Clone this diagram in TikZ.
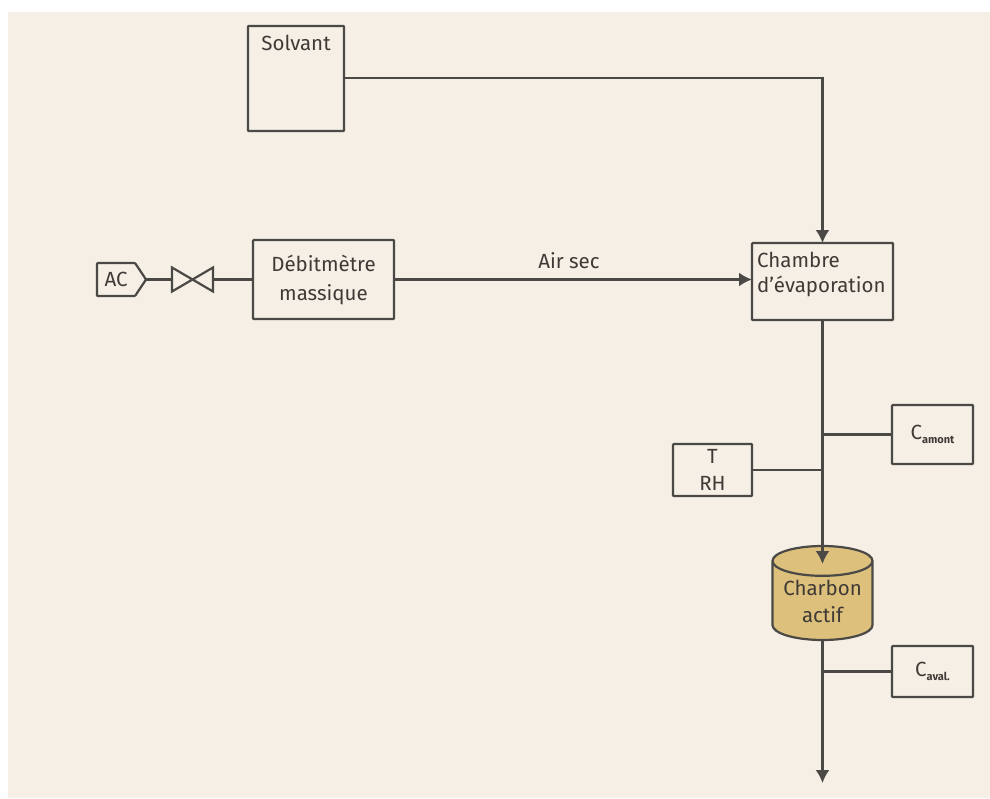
\documentclass[tikz,border=0pt]{standalone}
\usepackage{fontspec}
\setmainfont{Fira Sans}
\usetikzlibrary{positioning,arrows.meta,shapes.geometric,shapes.symbols}
\definecolor{papier}{HTML}{F5EFE6}
\definecolor{trait}{HTML}{4B4946}
\definecolor{encre}{HTML}{3F3A36}
\definecolor{charbon}{HTML}{DCC07C}
\tikzset{
  box/.style={draw=trait, line width=2.2pt, rounded corners=0.8pt, outer sep=0pt, inner sep=0pt, align=center, text=encre},
  flow/.style={draw=trait, line width=2.2pt},
  flowarrow/.style={flow, -{Latex[length=13pt,width=14pt]}},
}
\newcommand{\conc}[1]{C{\fontsize{11}{11}\selectfont\raisebox{-4pt}{\bfseries #1}}}
\begin{document}
\begin{tikzpicture}[x=1pt,y=-1pt,font=\fontsize{20.5}{27}\selectfont]
  \fill[white] (0,0) rectangle (990,798);
  \fill[papier] (8,12) rectangle (990,798);
  \useasboundingbox (0,0) rectangle (990,798);

  \node (mfc) [box, minimum width=141pt, minimum height=79pt] at (323.5,279.5) {Débitmètre\\[2pt]massique};
  \node (valve) [minimum width=41pt, minimum height=24pt, inner sep=0pt, outer sep=0pt, left=40pt of mfc] {};
  \node (ac) [box, signal, signal to=east, signal pointer angle=113, minimum width=49pt, minimum height=33pt, left=26pt of valve] {AC};
  \node (solvant) [box, minimum width=96pt, minimum height=105pt, above=109pt of mfc, xshift=-27.5pt,
    label={[anchor=north, text=encre, yshift=-6pt]north:Solvant}] {};
  \node (chambre) [box, minimum width=141pt, minimum height=77pt, right=358pt of mfc, yshift=-2pt,
    label={[anchor=north west, text=encre, align=left, inner sep=0pt, xshift=5pt, yshift=-9pt]north west:Chambre\\[-2pt]d'évaporation}] {};
  \node (amont) [box, minimum width=81pt, minimum height=59pt, below=85pt of chambre, xshift=110pt] {\conc{amont}};
  \node (rh) [box, minimum width=79pt, minimum height=52pt, below=124pt of chambre, xshift=-110pt] {T\\RH};
  \node (actif) [cylinder, shape border rotate=90, aspect=0.38, draw=trait, line width=2.2pt, cylinder uses custom fill,
    cylinder body fill=charbon, cylinder end fill=charbon, minimum width=100pt, minimum height=94pt, inner sep=0pt, outer sep=0pt,
    align=center, text=encre, below=226pt of chambre] {Charbon\\actif};
  \node (aval) [box, minimum width=81pt, minimum height=51pt, below=326pt of chambre, xshift=110pt] {\conc{aval.}};
  \coordinate [below=143pt of actif] (sortie);
  \coordinate [below=18pt of actif.north] (entree);

  \draw[flowarrow] (solvant.east |- 0,78) -| (chambre.north);
  \draw[flow] (ac.east) -- (valve.west);
  \draw[flow] (valve.north west) -- (valve.south east) -- (valve.north east) -- (valve.south west) -- cycle;
  \draw[flow] (valve.east) -- (mfc.west);
  \draw[flowarrow] (mfc.east) -- node[above=6pt, xshift=-4pt, text=encre] {Air sec} (mfc.east -| chambre.west);
  \draw[flowarrow] (chambre.south) -- (entree);
  \draw[flow] (amont.west) -- (amont.west -| chambre.south);
  \draw[flow] (rh.east) -- (rh.east -| chambre.south);
  \draw[flowarrow] (actif.south) -- (sortie);
  \draw[flow] (aval.west) -- (aval.west -| actif.south);
\end{tikzpicture}
\end{document}
